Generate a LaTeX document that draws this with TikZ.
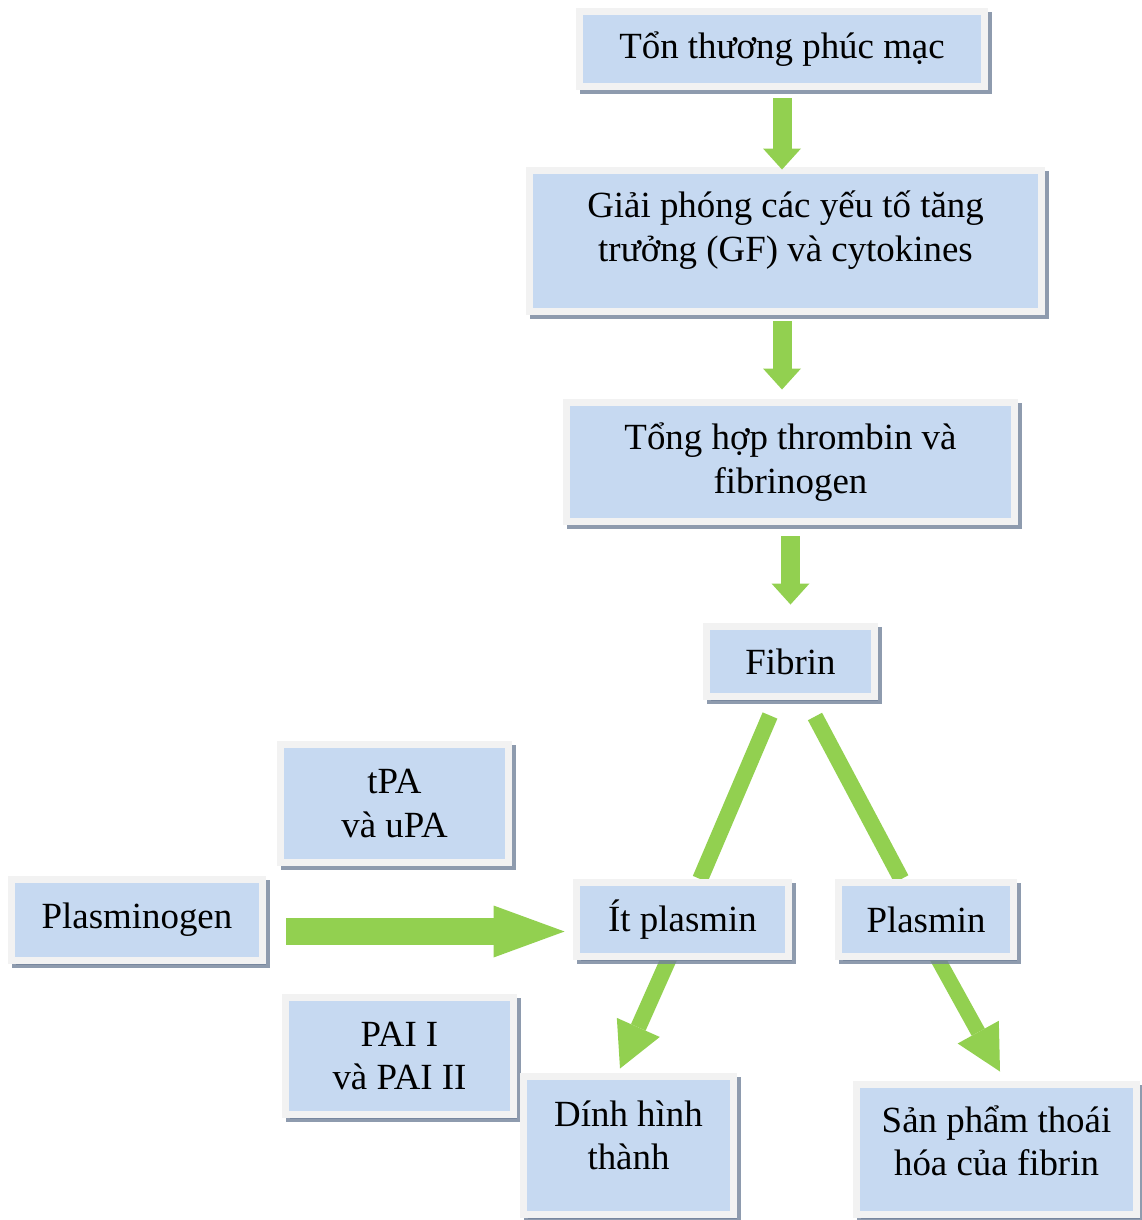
\documentclass[tikz,border=0pt]{standalone}
\usepackage{fontspec}
\setmainfont{Liberation Serif}
\usetikzlibrary{arrows.meta,calc,shadows}
\definecolor{boxblue}{HTML}{C6D9F1}
\definecolor{framegrey}{HTML}{F2F2F2}
\definecolor{shadowgrey}{RGB}{114,130,154}
\definecolor{arrowgreen}{HTML}{92D050}
\pgfdeclarelayer{back}
\pgfsetlayers{back,main}

\begin{document}
\begin{tikzpicture}[x=0.02cm,y=-0.02cm,
    box/.style={rectangle,fill=boxblue,draw=framegrey,line width=0.14cm,inner sep=0pt,align=center,
        font=\fontsize{21}{24.6}\selectfont,
        general shadow={fill=shadowgrey,draw=shadowgrey,line width=0.14cm,opacity=0.8,
            shadow xshift=0.08cm,shadow yshift=-0.08cm}},
    vflow/.style={draw=arrowgreen,line width=0.38cm,-{Triangle[length=0.42cm,width=0.76cm,line width=0pt]}},
    hflow/.style={draw=arrowgreen,line width=0.54cm,-{Triangle[length=1.42cm,width=1.04cm,line width=0pt]}},
    dflow/.style={draw=arrowgreen,line width=#1,-{Triangle[length=0.9cm,width=0.94cm,line width=0pt]}},
    bar/.style={draw=arrowgreen,line width=0.32cm}]
    \useasboundingbox (0,0) rectangle (1142,1220);

    \node[box,minimum width=8.1cm,minimum height=1.5cm] (ton) at (782,49) {Tổn thương phúc mạc};
    \node[box,minimum width=10.24cm,minimum height=2.82cm] (gf) at (785.5,241)
        {Giải phóng các yếu tố tăng\\trưởng (GF) và cytokines\rule[-17pt]{0pt}{0pt}};
    \node[box,minimum width=8.96cm,minimum height=2.38cm] (tong) at (790.5,462)
        {Tổng hợp thrombin và\\fibrinogen};
    \node[box,minimum width=3.36cm,minimum height=1.4cm] (fibrin) at (790.5,661.5) {Fibrin};
    \node[box,minimum width=4.56cm,minimum height=2.36cm] (tpa) at (394.5,803.5) {tPA\\và uPA};
    \node[box,minimum width=5.02cm,minimum height=1.62cm] (plg) at (137,920) {Plasminogen};
    \node[box,minimum width=4.24cm,minimum height=1.48cm] (itpl) at (682.5,919.5) {Ít plasmin};
    \node[box,minimum width=3.5cm,minimum height=1.48cm] (plasmin) at (926,919.5) {Plasmin};
    \node[box,minimum width=4.56cm,minimum height=2.34cm] (pai) at (399.5,1056) {PAI I\\và PAI II};
    \node[box,minimum width=4.2cm,minimum height=2.76cm] (dinh) at (628.5,1145.5)
        {Dính hình\\thành\rule[-11.4pt]{0pt}{0pt}};
    \node[box,minimum width=5.6cm,minimum height=2.6cm] (sanpham) at (996.5,1149.5)
        {Sản phẩm thoái\\hóa của fibrin\rule[-10.2pt]{0pt}{0pt}};

    \draw[vflow,shorten <=0.17cm,shorten >=-0.05cm] (ton.south) -- (ton.south |- gf.north);
    \draw[vflow,shorten <=0.13cm,shorten >=0.19cm] (ton.south |- gf.south) -- (ton.south |- tong.north);
    \draw[vflow,shorten <=0.23cm,shorten >=0.37cm] (tong.south -| fibrin.north) -- (fibrin.north);
    \draw[hflow] ($(plg.east)+(20.5,11.5)$) -- ($(itpl.west)+(-8.5,12)$);
    \begin{pgfonlayer}{back}
        \draw[bar] ($(fibrin.south)+(-20.5,15.5)$) -- ($(itpl.north)+(17.7,0)$);
        \draw[bar] ($(fibrin.south)+(24.5,16.5)$) -- ($(plasmin.north)+(-24.7,0)$);
        \draw[dflow=0.32cm] ($(itpl.south)+(-11.3,-6.5)$) -- ($(dinh.north)+(-8.5,-4.5)$);
        \draw[dflow=0.3cm] ($(plasmin.south)+(8.8,-6.5)$) -- ($(sanpham.north)+(3.5,-9.5)$);
    \end{pgfonlayer}
\end{tikzpicture}
\end{document}
